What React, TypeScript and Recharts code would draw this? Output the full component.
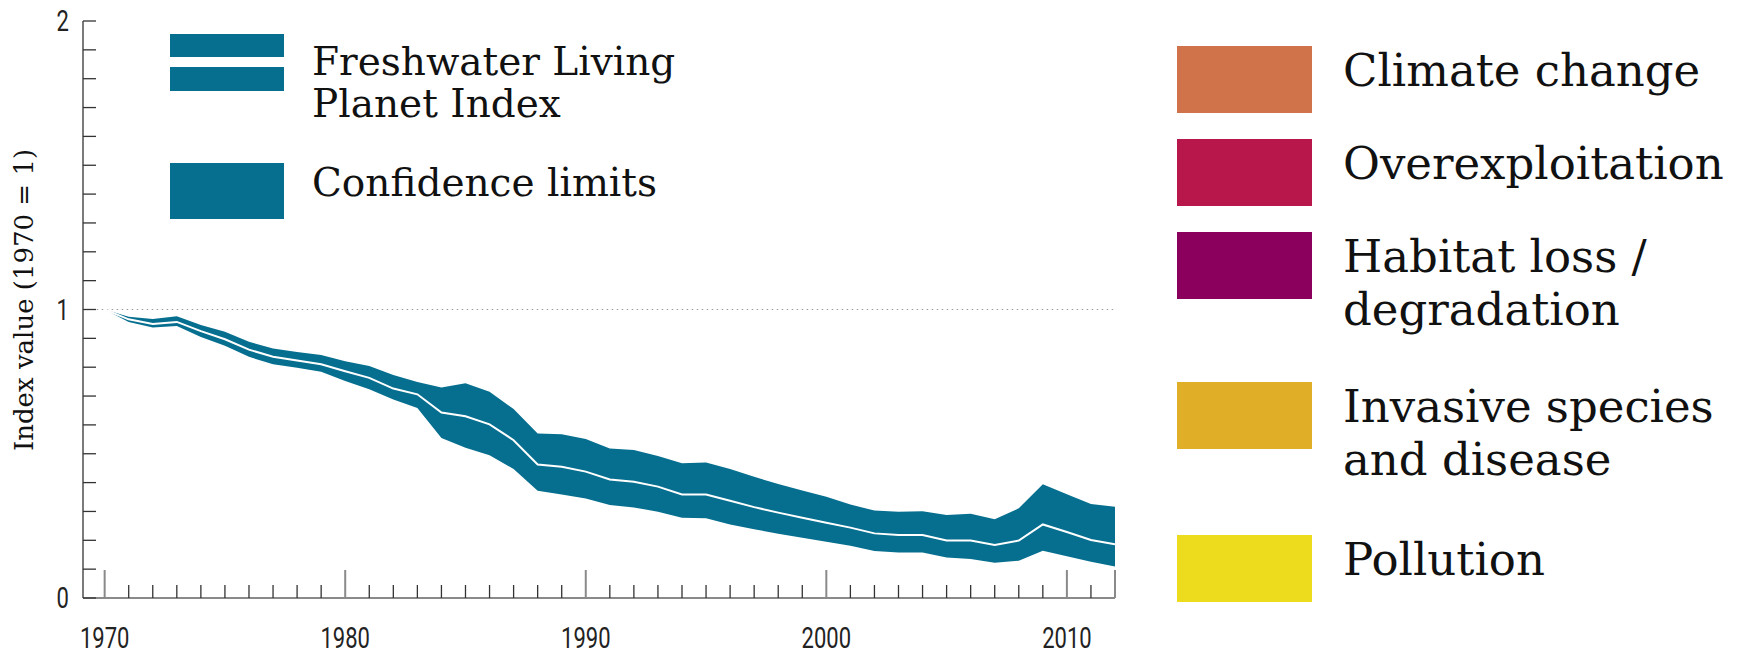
import React from "react";
import { ComposedChart, Area, Line, XAxis, YAxis, ReferenceLine } from "recharts";

const years = [1970, 1971, 1972, 1973, 1974, 1975, 1976, 1977, 1978, 1979, 1980, 1981, 1982, 1983, 1984, 1985, 1986, 1987, 1988, 1989, 1990, 1991, 1992, 1993, 1994, 1995, 1996, 1997, 1998, 1999, 2000, 2001, 2002, 2003, 2004, 2005, 2006, 2007, 2008, 2009, 2010, 2011, 2012];

const indexMean = [1, 0.966, 0.95, 0.957, 0.925, 0.897, 0.861, 0.836, 0.823, 0.81, 0.786, 0.763, 0.726, 0.706, 0.643, 0.63, 0.602, 0.547, 0.463, 0.455, 0.438, 0.411, 0.403, 0.386, 0.359, 0.359, 0.337, 0.315, 0.296, 0.278, 0.261, 0.244, 0.224, 0.218, 0.218, 0.199, 0.199, 0.184, 0.199, 0.255, 0.229, 0.201, 0.186];

const upperLimit = [1, 0.975, 0.967, 0.977, 0.946, 0.923, 0.888, 0.865, 0.853, 0.842, 0.821, 0.804, 0.773, 0.749, 0.73, 0.744, 0.715, 0.655, 0.57, 0.568, 0.551, 0.518, 0.513, 0.492, 0.467, 0.47, 0.447, 0.42, 0.395, 0.373, 0.351, 0.324, 0.303, 0.299, 0.301, 0.288, 0.292, 0.273, 0.311, 0.394, 0.36, 0.326, 0.316];

const lowerLimit = [1, 0.957, 0.938, 0.943, 0.905, 0.874, 0.836, 0.81, 0.798, 0.784, 0.752, 0.724, 0.688, 0.659, 0.555, 0.521, 0.495, 0.447, 0.372, 0.359, 0.345, 0.322, 0.314, 0.299, 0.278, 0.276, 0.255, 0.238, 0.223, 0.209, 0.195, 0.181, 0.163, 0.158, 0.158, 0.14, 0.135, 0.122, 0.129, 0.164, 0.145, 0.126, 0.109];

const yTicks = [0, 0.1, 0.2, 0.3, 0.4, 0.5, 0.6, 0.7, 0.8, 0.9, 1, 1.1, 1.2, 1.3, 1.4, 1.5, 1.6, 1.7, 1.8, 1.9, 2];
const yTickLabels = [0, 1, 2];
const xTickLabels = [1970, 1980, 1990, 2000, 2010];
const xMajorTicks = [1970, 1980, 1990, 2000, 2010, 2012];

const threatLabels = [
  ["Climate change"],
  ["Overexploitation"],
  ["Habitat loss /", "degradation"],
  ["Invasive species", "and disease"],
  ["Pollution"],
];
const threatColors = ["#D1734A", "#B8174B", "#8B005C", "#E0AF27", "#EDDC1E"];

const BAND = "#066F8F";
const SERIF = "'DejaVu Serif', serif";
const COND = "Roboto, 'Liberation Sans', sans-serif";

const data = years.map((y, i) => ({
  year: y,
  mean: indexMean[i],
  band: [lowerLimit[i], upperLimit[i]],
}));

const XTick = (props: any) => {
  const { x, y, payload } = props;
  const v = payload.value;
  const major = xMajorTicks.includes(v);
  return (
    <g>
      <line
        x1={x}
        x2={x}
        y1={y}
        y2={y - (major ? 28 : 13)}
        stroke={major ? "#8a8a8a" : "#333"}
        strokeWidth={major ? 2 : 1.3}
      />
      {xTickLabels.includes(v) && (
        <text
          transform={`translate(${x},${y + 50}) scale(0.76,1)`}
          textAnchor="middle"
          fontFamily={COND}
          fontSize={29}
          fill="#222"
        >
          {v}
        </text>
      )}
    </g>
  );
};

const YTick = (props: any) => {
  const { x, y, payload } = props;
  const v = payload.value;
  const isLabel = yTickLabels.some((t) => Math.abs(t - v) < 1e-6);
  return (
    <g>
      <line x1={x} x2={x + 13} y1={y} y2={y} stroke="#333" strokeWidth={1.3} />
      {isLabel && (
        <text
          transform={`translate(${x - 14},${y + 10}) scale(0.76,1)`}
          textAnchor="end"
          fontFamily={COND}
          fontSize={29}
          fill="#222"
        >
          {Math.round(v)}
        </text>
      )}
    </g>
  );
};

const rightRectTops = [46, 139, 232, 382, 535];

export default function App() {
  return (
    <div style={{ position: "absolute", left: 0, top: 0, width: 1758, height: 654, background: "#fff" }}>
      <ComposedChart
        width={1758}
        height={654}
        data={data}
        margin={{ top: 21, right: 643, bottom: 55, left: 82 }}
      >
        <XAxis
          dataKey="year"
          type="number"
          domain={[1969.1, 2012]}
          ticks={years}
          interval={0}
          height={1}
          tickSize={0}
          tickMargin={0}
          tick={<XTick />}
          tickLine={false}
          axisLine={{ stroke: "#8a8a8a", strokeWidth: 2 }}
          allowDataOverflow
        />
        <YAxis
          type="number"
          domain={[0, 2]}
          ticks={yTicks}
          interval={0}
          width={1}
          tickSize={0}
          tickMargin={0}
          tick={<YTick />}
          tickLine={false}
          axisLine={{ stroke: "#333", strokeWidth: 1.3 }}
        />
        <ReferenceLine
          segment={[{ x: 1969.67, y: 1 }, { x: 2012, y: 1 }]}
          stroke="#9a9a9a"
          strokeWidth={1}
          strokeDasharray="1.5 3.5"
        />
        <Area
          dataKey="band"
          type="linear"
          stroke="none"
          fill={BAND}
          fillOpacity={1}
          isAnimationActive={false}
          dot={false}
          activeDot={false}
        />
        <Line
          dataKey="mean"
          type="linear"
          stroke="#ffffff"
          strokeWidth={2}
          dot={false}
          activeDot={false}
          isAnimationActive={false}
        />
      </ComposedChart>
      <svg
        width={1758}
        height={654}
        style={{ position: "absolute", left: 0, top: 0, pointerEvents: "none" }}
      >
        <text
          transform="translate(33,300) rotate(-90)"
          textAnchor="middle"
          fontFamily={SERIF}
          fontSize={26}
          fill="#111"
        >
          Index value (1970 = 1)
        </text>
        <rect x={170} y={34} width={114} height={23} fill={BAND} />
        <rect x={170} y={67} width={114} height={24} fill={BAND} />
        <rect x={170} y={163} width={114} height={56} fill={BAND} />
        <text x={312} y={75} fontFamily={SERIF} fontSize={39} fill="#111">
          Freshwater Living
        </text>
        <text x={312} y={117} fontFamily={SERIF} fontSize={39} fill="#111">
          Planet Index
        </text>
        <text x={312} y={196} fontFamily={SERIF} fontSize={39} fill="#111">
          Confidence limits
        </text>
        {threatLabels.map((lines, i) => (
          <g key={i}>
            <rect x={1177} y={rightRectTops[i]} width={135} height={67} fill={threatColors[i]} />
            {lines.map((t, j) => (
              <text
                key={j}
                x={1343}
                y={rightRectTops[i] + 40 + j * 53}
                fontFamily={SERIF}
                fontSize={45}
                fill="#111"
              >
                {t}
              </text>
            ))}
          </g>
        ))}
      </svg>
    </div>
  );
}
